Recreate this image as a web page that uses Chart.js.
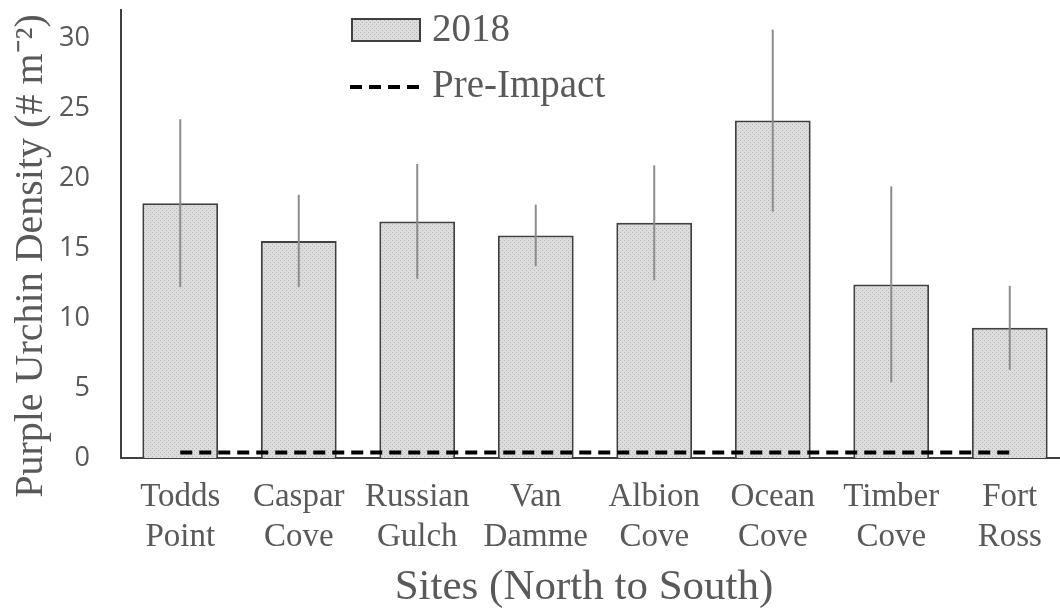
<!DOCTYPE html>
<html>
<head>
  <title>Purple Urchin Density</title>
  <script src="https://cdn.jsdelivr.net/npm/chart.js"></script>
  <style>
    body {
      margin: 0;
      background-color: #ffffff;
      overflow: hidden;
    }
    .wrap {
      position: relative;
      width: 1069px;
      height: 612px;
    }
  </style>
</head>
<body>
  <div class="wrap">
    <canvas id="urchinChart"></canvas>
  </div>

  <script>
    // sites, north to south
    const sites = [
      ['Todds', 'Point'], ['Caspar', 'Cove'], ['Russian', 'Gulch'], ['Van', 'Damme'],
      ['Albion', 'Cove'], ['Ocean', 'Cove'], ['Timber', 'Cove'], ['Fort', 'Ross']
    ];
    const density2018 = [18.2, 15.5, 16.9, 15.9, 16.8, 24.1, 12.4, 9.3];
    const error2018 = [6.0, 3.3, 4.1, 2.2, 4.1, 6.5, 7.0, 3.0];
    const preImpact = [0.4, 0.4, 0.4, 0.4, 0.4, 0.4, 0.4, 0.4];
    const yTicks = [0, 5, 10, 15, 20, 25, 30];

    const textGrey = '#595959';
    const axisGrey = '#404040';
    const serif = '"Liberation Serif", "Times New Roman", serif';

    // dotted grey fill like the original bars
    function dotPattern() {
      const c = document.createElement('canvas');
      c.width = 4;
      c.height = 4;
      const g = c.getContext('2d');
      g.fillStyle = '#dcdcdc';
      g.fillRect(0, 0, 4, 4);
      g.fillStyle = '#b8b8b8';
      g.fillRect(0, 0, 1, 1);
      g.fillRect(2, 2, 1, 1);
      return g.createPattern(c, 'repeat');
    }
    const barFill = dotPattern();

    // vertical error lines, no caps
    const errorBars = {
      id: 'errorBars',
      afterDatasetsDraw(chart) {
        const meta = chart.getDatasetMeta(1);
        const y = chart.scales.y;
        const ctx = chart.ctx;
        ctx.save();
        ctx.strokeStyle = '#8c8c8c';
        ctx.lineWidth = 2;
        meta.data.forEach((bar, i) => {
          const v = density2018[i];
          ctx.beginPath();
          ctx.moveTo(bar.x, y.getPixelForValue(v + error2018[i]));
          ctx.lineTo(bar.x, y.getPixelForValue(v - error2018[i]));
          ctx.stroke();
        });
        ctx.restore();
      }
    };

    // two-row legend at the top and the axis titles
    const legendAndTitles = {
      id: 'legendAndTitles',
      afterDraw(chart) {
        const ctx = chart.ctx;
        ctx.save();
        ctx.fillStyle = barFill;
        ctx.fillRect(352, 19, 68, 22);
        ctx.strokeStyle = axisGrey;
        ctx.lineWidth = 2;
        ctx.strokeRect(352, 19, 68, 22);

        ctx.strokeStyle = '#000000';
        ctx.lineWidth = 4;
        ctx.setLineDash([12, 7]);
        ctx.beginPath();
        ctx.moveTo(350, 87);
        ctx.lineTo(424, 87);
        ctx.stroke();
        ctx.setLineDash([]);

        ctx.fillStyle = textGrey;
        ctx.font = '39px ' + serif;
        ctx.textBaseline = 'middle';
        ctx.textAlign = 'left';
        ctx.fillText('2018', 432, 31);
        ctx.fillText('Pre-Impact', 432, 87);

        ctx.textAlign = 'center';
        ctx.font = '43px ' + serif;
        ctx.fillText('Sites (North to South)', 584, 588);

        ctx.translate(31, 256);
        ctx.rotate(-Math.PI / 2);
        ctx.font = '40px ' + serif;
        ctx.fillText('Purple Urchin Density (# m⁻²)', 0, 0);
        ctx.restore();
      }
    };

    const ctx = document.getElementById('urchinChart').getContext('2d');
    new Chart(ctx, {
      type: 'bar',
      data: {
        labels: sites,
        datasets: [
          {
            type: 'line',
            label: 'Pre-Impact',
            data: preImpact,
            borderColor: '#000000',
            borderWidth: 4,
            borderDash: [12, 7],
            pointRadius: 0,
            fill: false,
            order: 0
          },
          {
            label: '2018',
            data: density2018,
            backgroundColor: barFill,
            borderColor: axisGrey,
            borderWidth: 2,
            categoryPercentage: 1,
            barPercentage: 0.64,
            order: 1
          }
        ]
      },
      options: {
        responsive: true,
        maintainAspectRatio: false,
        animation: false,
        layout: { padding: { top: 10, left: 0, right: 0, bottom: 0 } },
        plugins: {
          legend: { display: false },
          tooltip: { enabled: false }
        },
        scales: {
          x: {
            grid: { display: false, drawTicks: false },
            border: { display: true, color: axisGrey, width: 2 },
            ticks: {
              color: textGrey,
              font: { family: serif, size: 33, lineHeight: 1.21 },
              padding: 19,
              maxRotation: 0,
              autoSkip: false
            },
            afterFit(scale) {
              scale.height = 154;
              scale.paddingLeft = 0;
              scale.paddingRight = 0;
            }
          },
          y: {
            min: 0,
            max: 32,
            grid: { display: false, drawTicks: false },
            border: { display: true, color: axisGrey, width: 2 },
            afterBuildTicks(scale) {
              scale.ticks = yTicks.map(v => ({ value: v }));
            },
            ticks: {
              color: textGrey,
              font: { family: 'Open Sans', size: 27 },
              padding: 31
            },
            afterFit(scale) {
              scale.width = 121;
              scale.paddingTop = 0;
              scale.paddingBottom = 0;
            }
          }
        }
      },
      plugins: [errorBars, legendAndTitles]
    });
  </script>
</body>
</html>
